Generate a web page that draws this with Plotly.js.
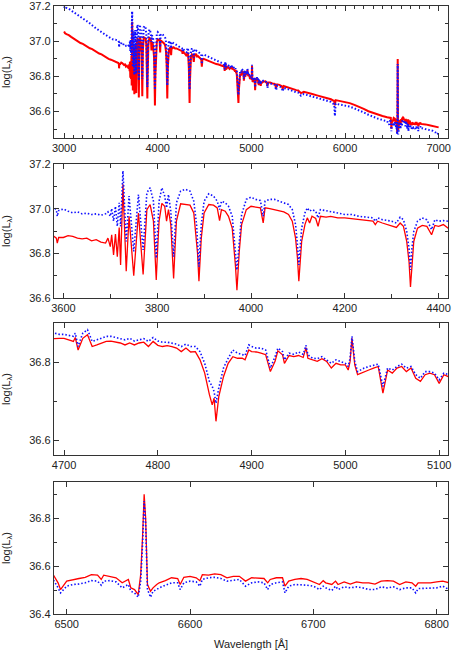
<!DOCTYPE html>
<html>
<head>
<meta charset="utf-8">
<script src="https://cdn.plot.ly/plotly-3.0.1.min.js"></script>
<style>
  html, body { margin: 0; padding: 0; background: #fff; }
  #chart { width: 458px; height: 654px; }
</style>
</head>
<body>
<div id="chart"></div>
<script>
// ---- Spectrum data (wavelength in Å, log L_lambda) ----
// Near-UV continuum 3000-3575 Å
const wlUV   = [3000,3010,3025,3050,3075,3100,3125,3150,3175,3200,3225,3250,3275,3300,3325,3350,3375,3400,3425,3450,3475,3500,3525,3550,3570];
const redUV  = [37.055,37.045,37.040,37.035,37.025,37.015,37.010,37.000,36.990,36.985,36.975,36.970,36.960,36.955,36.945,36.940,36.930,36.925,36.915,36.910,36.900,36.895,36.888,36.880,36.878];
const bluUV  = [37.190,37.200,37.190,37.185,37.175,37.165,37.160,37.150,37.140,37.130,37.120,37.112,37.100,37.090,37.080,37.070,37.060,37.050,37.042,37.035,37.025,37.018,37.010,37.008,37.005];

// Balmer-jump region 3580-4420 Å
const wlBJ  = [3580,3585,3587,3590,3600,3610,3620,3630,3640,3650,3660,3670,3680,3690,3695,3700,3703,3707,3711,3715,3719,3722,3725,3727,3729,3734,3740,3750,3760,3770,3778,3785,3792,3795,3798,3801,3804,3810,3816,3820,3824,3829,3832,3835,3838,3841,3850,3860,3870,3878,3884,3886,3889,3892,3894,3900,3910,3920,3928,3933,3937,3945,3952,3960,3965,3967,3970,3973,3975,3980,3990,4000,4010,4020,4026,4030,4040,4050,4060,4070,4080,4088,4095,4099,4102,4105,4108,4115,4120,4125,4130,4138,4143,4148,4160,4170,4185,4200,4215,4230,4245,4260,4265,4270,4280,4290,4300,4310,4318,4325,4332,4337,4340,4343,4347,4355,4365,4375,4385,4392,4400,4410,4420];
const redBJ = [36.876,36.868,36.846,36.871,36.871,36.879,36.876,36.868,36.865,36.868,36.856,36.861,36.850,36.846,36.868,36.830,36.883,36.793,36.886,36.785,36.916,36.748,36.944,37.110,36.989,36.720,36.966,36.699,36.981,36.705,36.996,37.019,36.944,36.820,36.680,36.820,36.944,37.024,37.011,36.944,36.996,36.929,36.820,36.687,36.820,36.944,37.022,37.019,37.016,36.981,36.868,36.800,36.675,36.800,36.868,36.981,37.019,37.016,37.004,36.947,36.996,36.989,36.966,36.913,36.808,36.740,36.634,36.740,36.808,36.929,36.996,37.011,37.007,37.004,36.936,37.004,37.001,36.996,36.992,36.986,36.974,36.944,36.868,36.780,36.675,36.770,36.853,36.929,36.959,36.936,36.966,36.956,36.921,36.966,36.962,36.966,36.959,36.959,36.956,36.951,36.950,36.944,36.929,36.944,36.936,36.929,36.925,36.916,36.936,36.921,36.853,36.760,36.649,36.760,36.853,36.913,36.925,36.921,36.883,36.925,36.921,36.929,36.913];
const bluBJ = [37.004,36.996,36.966,36.992,36.999,36.989,36.981,36.986,36.977,36.980,36.974,36.977,36.971,36.977,36.986,36.966,37.001,36.944,37.011,36.921,37.027,36.921,37.064,37.170,37.079,36.853,37.057,36.808,37.064,36.815,37.072,37.094,37.034,36.910,36.778,36.910,37.034,37.094,37.057,37.004,37.064,36.989,36.900,36.785,36.900,37.027,37.079,37.087,37.079,37.034,36.929,36.860,36.740,36.860,36.929,37.034,37.067,37.057,37.034,36.996,37.034,37.027,37.011,36.966,36.868,36.800,36.725,36.800,36.868,36.974,37.042,37.052,37.042,37.037,36.966,37.034,37.042,37.042,37.034,37.027,37.019,36.996,36.929,36.840,36.748,36.830,36.913,36.981,37.004,36.989,36.996,36.989,36.959,36.996,36.992,36.989,36.981,36.974,36.974,36.966,36.962,36.959,36.944,36.959,36.951,36.947,36.944,36.936,36.962,36.951,36.898,36.820,36.725,36.820,36.898,36.944,36.959,36.951,36.906,36.951,36.944,36.947,36.944];

// 4425-4685 Å
const wlMid  = [4430,4450,4465,4471,4477,4490,4510,4530,4550,4575,4600,4625,4650,4670,4685];
const redMid = [36.915,36.905,36.895,36.855,36.895,36.900,36.895,36.890,36.885,36.880,36.875,36.870,36.868,36.862,36.862];
const bluMid = [36.940,36.935,36.925,36.870,36.920,36.925,36.920,36.915,36.910,36.905,36.900,36.895,36.888,36.880,36.876];

// H-beta region 4690-5110 Å
const wlHb  = [4690,4695,4700,4705,4710,4712,4715,4718,4720,4725,4728,4730,4735,4740,4745,4750,4755,4760,4765,4770,4775,4780,4785,4790,4795,4800,4805,4810,4815,4820,4825,4830,4835,4840,4845,4850,4855,4858,4860,4862,4865,4870,4875,4880,4885,4890,4893,4897,4900,4905,4910,4915,4920,4925,4928,4933,4935,4940,4945,4950,4955,4958,4960,4965,4970,4975,4980,4985,4990,4995,5000,5003,5005,5007,5010,5013,5020,5025,5030,5035,5040,5045,5050,5055,5060,5065,5070,5075,5080,5085,5090,5095,5100,5105,5110];
const redHb = [36.860,36.861,36.861,36.857,36.853,36.863,36.831,36.849,36.861,36.870,36.853,36.840,36.844,36.849,36.853,36.854,36.851,36.849,36.844,36.849,36.844,36.849,36.851,36.840,36.853,36.843,36.840,36.842,36.840,36.836,36.827,36.836,36.826,36.827,36.806,36.772,36.717,36.691,36.708,36.649,36.712,36.763,36.797,36.814,36.810,36.810,36.806,36.831,36.827,36.826,36.823,36.819,36.776,36.802,36.829,36.819,36.797,36.817,36.814,36.817,36.812,36.837,36.810,36.806,36.802,36.809,36.802,36.785,36.797,36.793,36.793,36.780,36.802,36.861,36.793,36.768,36.776,36.780,36.785,36.789,36.721,36.780,36.772,36.785,36.789,36.776,36.785,36.759,36.751,36.768,36.772,36.768,36.746,36.768,36.763];
const bluHb = [36.874,36.871,36.871,36.868,36.866,36.874,36.840,36.861,36.874,36.883,36.866,36.853,36.857,36.861,36.866,36.866,36.863,36.861,36.857,36.861,36.854,36.857,36.860,36.853,36.863,36.854,36.851,36.851,36.849,36.846,36.840,36.846,36.840,36.840,36.827,36.797,36.751,36.738,36.725,36.695,36.734,36.785,36.810,36.831,36.823,36.819,36.817,36.844,36.840,36.836,36.836,36.831,36.785,36.814,36.836,36.827,36.806,36.823,36.820,36.826,36.820,36.843,36.819,36.810,36.809,36.814,36.806,36.797,36.806,36.802,36.797,36.789,36.810,36.866,36.802,36.776,36.785,36.789,36.793,36.795,36.738,36.785,36.780,36.789,36.795,36.785,36.789,36.768,36.759,36.776,36.776,36.772,36.755,36.772,36.768];

// 5125-6480 Å
const wlRed  = [5125,5150,5167,5172,5178,5200,5225,5250,5265,5275,5300,5325,5335,5345,5375,5400,5430,5455,5480,5500,5530,5560,5600,5650,5700,5750,5800,5850,5885,5892,5900,5950,6000,6050,6100,6150,6200,6250,6300,6350,6400,6450,6470,6480];
const redRed = [36.770,36.772,36.760,36.745,36.765,36.765,36.760,36.758,36.735,36.755,36.752,36.745,36.730,36.745,36.740,36.735,36.730,36.725,36.722,36.720,36.705,36.712,36.705,36.700,36.692,36.685,36.678,36.670,36.660,36.635,36.665,36.660,36.655,36.648,36.638,36.628,36.615,36.602,36.592,36.582,36.575,36.568,36.566,36.565];
const bluRed = [36.775,36.775,36.758,36.735,36.760,36.762,36.755,36.752,36.722,36.748,36.745,36.735,36.715,36.735,36.730,36.725,36.720,36.712,36.710,36.708,36.690,36.700,36.692,36.685,36.678,36.670,36.662,36.655,36.640,36.575,36.645,36.640,36.635,36.628,36.618,36.608,36.595,36.582,36.570,36.560,36.552,36.545,36.525,36.545];

// H-alpha region 6489-6810 Å
const wlHa  = [6489,6493,6495,6500,6505,6510,6515,6520,6525,6528,6530,6535,6540,6545,6550,6552,6555,6558,6560,6561.5,6562.8,6564,6565.5,6568,6570,6573,6575,6580,6585,6590,6592,6595,6600,6605,6608,6610,6615,6620,6625,6630,6635,6640,6645,6650,6655,6660,6663,6665,6670,6675,6677,6680,6685,6690,6695,6700,6705,6708,6710,6715,6718,6720,6725,6730,6735,6740,6745,6750,6755,6760,6765,6770,6775,6780,6783,6785,6790,6795,6800,6805,6810];
const redHa = [36.564,36.530,36.502,36.537,36.544,36.548,36.553,36.564,36.562,36.544,36.562,36.557,36.551,36.530,36.544,36.509,36.502,36.481,36.564,36.720,36.899,36.800,36.523,36.495,36.509,36.523,36.530,36.539,36.551,36.548,36.523,36.553,36.557,36.551,36.539,36.564,36.562,36.567,36.564,36.551,36.557,36.557,36.537,36.551,36.551,36.548,36.530,36.544,36.551,36.551,36.516,36.537,36.544,36.548,36.544,36.534,36.523,36.539,36.530,36.523,36.537,36.523,36.534,36.525,36.534,36.530,36.530,36.525,36.537,36.539,36.537,36.523,36.534,36.530,36.516,36.530,36.530,36.530,36.534,36.537,36.530];
const bluHa = [36.544,36.509,36.488,36.516,36.523,36.525,36.530,36.539,36.537,36.520,36.537,36.539,36.534,36.509,36.523,36.495,36.488,36.470,36.537,36.690,36.871,36.780,36.502,36.470,36.495,36.502,36.509,36.520,36.530,36.530,36.502,36.530,36.537,36.534,36.516,36.544,36.551,36.553,36.548,36.537,36.539,36.544,36.516,36.530,36.534,36.530,36.502,36.523,36.530,36.534,36.488,36.516,36.523,36.523,36.520,36.516,36.502,36.516,36.509,36.498,36.516,36.502,36.513,36.509,36.513,36.509,36.502,36.502,36.513,36.509,36.513,36.502,36.509,36.509,36.488,36.506,36.506,36.509,36.509,36.516,36.502];

// 6830-7000 Å
const wlIR  = [6830,6860,6900,6940,6970,6985,7000];
const redIR = [36.530,36.527,36.522,36.518,36.515,36.512,36.510];
const bluIR = [36.505,36.500,36.495,36.490,36.480,36.470,36.478];

// Panel x windows [Å] and y windows [log L]
const xWindows = [[2892, 7100], [3580, 4420], [4689.3, 5109.4], [6489.7, 6809.2]];
const yWindows = [[36.45, 37.2005], [36.6, 37.2005], [36.563, 36.9], [36.4, 36.95]];

// ---- Build ----
const wl   = [].concat(wlUV, wlBJ, wlMid, wlHb, wlRed, wlHa, wlIR);
const redL = [].concat(redUV, redBJ, redMid, redHb, redRed, redHa, redIR);
const bluL = [].concat(bluUV, bluBJ, bluMid, bluHb, bluRed, bluHa, bluIR);

const domains = [[0.783, 1.0], [0.520, 0.740], [0.2615, 0.4786], [0, 0.217]];
const axisFont = { family: 'Liberation Sans, Arial, Helvetica, sans-serif', size: 11, color: '#222' };
const redWidths = [2.0, 1.3, 1.3, 1.3];
const bluWidths = [2.0, 1.6, 1.6, 1.6];

const traces = [];
const layout = {
  width: 458, height: 654,
  margin: { l: 54, r: 10, t: 6, b: 40 },
  paper_bgcolor: '#fff', plot_bgcolor: '#fff',
  showlegend: false,
  font: axisFont
};

const xTickCfg = [
  { dtick: 1000, tick0: 3000, minor: { dtick: 100, ticklen: 3, tickcolor: '#333', ticks: 'inside' } },
  { dtick: 200, tick0: 3600, minor: { dtick: 100, ticklen: 4, tickcolor: '#333', ticks: 'inside' } },
  { dtick: 100, tick0: 4700 },
  { dtick: 100, tick0: 6500 }
];

for (let i = 0; i < 4; i++) {
  const sfx = i === 0 ? '' : String(i + 1);
  traces.push({
    x: wl, y: redL, type: 'scatter', mode: 'lines',
    xaxis: 'x' + sfx, yaxis: 'y' + sfx,
    line: { color: '#ff0000', width: redWidths[i] }, hoverinfo: 'skip'
  });
  traces.push({
    x: wl, y: bluL, type: 'scatter', mode: 'lines',
    xaxis: 'x' + sfx, yaxis: 'y' + sfx,
    line: { color: '#1010ff', width: bluWidths[i], dash: '1.5px,2px' }, hoverinfo: 'skip'
  });
  const xa = Object.assign({
    domain: [0, 1], anchor: 'y' + sfx, range: xWindows[i],
    showline: true, linecolor: '#333', linewidth: 1.2, mirror: 'ticks',
    ticks: 'inside', ticklen: 5, tickcolor: '#333', showgrid: false, zeroline: false,
    tickfont: axisFont, tickmode: 'linear', ticklabeloverflow: 'allow'
  }, xTickCfg[i]);
  if (i === 3) {
    xa.title = { text: 'Wavelength [Å]', font: axisFont, standoff: 10 };
  }
  const ya = {
    domain: domains[i], anchor: 'x' + sfx, range: yWindows[i],
    showline: true, linecolor: '#333', linewidth: 1.2, mirror: 'ticks',
    ticks: 'inside', ticklen: 5, tickcolor: '#333', showgrid: false, zeroline: false,
    tickmode: 'linear', tick0: 36.4, dtick: 0.2, tickformat: '.1f',
    minor: { dtick: 0.1, ticklen: 3, tickcolor: '#333', ticks: 'inside' },
    tickfont: axisFont, ticklabeloverflow: 'allow',
    title: { text: 'log(L<sub>λ</sub>)', font: axisFont, standoff: 16 }
  };
  layout['xaxis' + sfx] = xa;
  layout['yaxis' + sfx] = ya;
}

Plotly.newPlot('chart', traces, layout, { staticPlot: true, displayModeBar: false });
</script>
</body>
</html>
